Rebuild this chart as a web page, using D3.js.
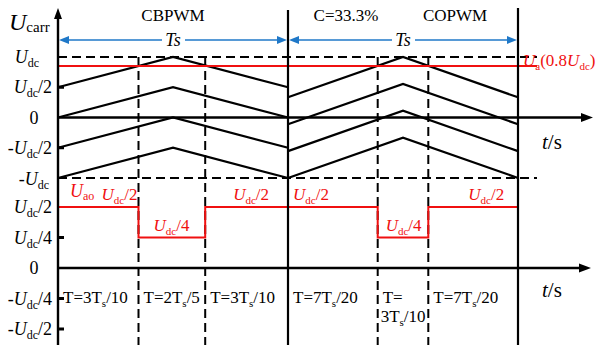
<!DOCTYPE html>
<html><head><meta charset="utf-8">
<script src="https://cdn.jsdelivr.net/npm/d3@7"></script>
<style>body{margin:0;background:#fff}svg{display:block}text{font-family:"Liberation Serif","Times New Roman",serif}</style>
</head><body><svg id="c" width="600" height="349"></svg>
<script>
// ---- data (values in units of Udc, time in units of Ts) ----
const periods = [[0, 1], [1, 2]];
const periodTitles = ["CBPWM", "COPWM"];
const cbLows  = [0.5, 0, -0.5, -1];
const cbHighs = [1, 0.5, 0, -0.5];
const coLows  = [1/3, -1/9, -5/9, -1];
const coHighs = [1, 5/9, 1/9, -1/3];
const uaLevel = 0.85;           // drawn level of the reference line
const switchTimes = [0.35, 0.64, 1.39, 1.61];
const uaoTimes  = [0, 0.35, 0.64, 1.39, 1.61, 2];
const uaoValues = [0.5, 0.25, 0.5, 0.25, 0.5, 0.5];
const topTicks = [{v:1,l:"U",s:"dc",r:""},{v:0.5,l:"U",s:"dc",r:"/2"},{v:0,l:"0",s:"",r:""},{v:-0.5,l:"-U",s:"dc",r:"/2"},{v:-1,l:"-U",s:"dc",r:""}];
const botTicks = [{v:0.5,l:"U",s:"dc",r:"/2"},{v:0.25,l:"U",s:"dc",r:"/4"},{v:0,l:"0",s:"",r:""},{v:-0.25,l:"-U",s:"dc",r:"/4"},{v:-0.5,l:"-U",s:"dc",r:"/2"}];
const intervalLabels = [
  {t:0, parts:["T=3T","s","/10"]},{t:0.35, parts:["T=2T","s","/5"]},{t:0.64, parts:["T=3T","s","/10"]},
  {t:1, parts:["T=7T","s","/20"]},{t:1.39, parts:["T=","",""]},{t:1.39, parts:["3T","s","/10"], line2:true},{t:1.61, parts:["T=7T","s","/20"]}];
const redLabels = [
  {t:0.05,v:0.5,parts:["U","dc","/2"],dx:32},{t:0.35,v:0.25,parts:["U","dc","/4"],dx:15},
  {t:0.64,v:0.5,parts:["U","dc","/2"],dx:28},{t:1.0,v:0.5,parts:["U","dc","/2"],dx:5},
  {t:1.39,v:0.25,parts:["U","dc","/4"],dx:8},{t:1.61,v:0.5,parts:["U","dc","/2"],dx:40}];

const svg = d3.select("#c");
const x = d3.scaleLinear().domain([0, 2]).range([58, 518]);
const yT = d3.scaleLinear().domain([-1, 1]).range([178, 57]);
const yB = d3.scaleLinear().domain([-0.5, 0.5]).range([329, 207]);
const yBottom = 345, xEnd = 537;
const BLUE = "#1f78c8", RED = "#f01010";

// dashed horizontals at +-Udc
[1, -1].forEach(v => svg.append("line").attr("x1", x(0)).attr("x2", xEnd).attr("y1", yT(v)).attr("y2", yT(v))
  .attr("stroke", "#000").attr("stroke-width", 2).attr("stroke-dasharray", "9,5"));

// dashed verticals at switching times
switchTimes.forEach(t => svg.append("line").attr("x1", x(t)).attr("x2", x(t)).attr("y1", yT(1)).attr("y2", yBottom)
  .attr("stroke", "#000").attr("stroke-width", 2).attr("stroke-dasharray", "9,5"));

// carriers
const line = d3.line().x(d => x(d[0])).y(d => yT(d[1]));
function carriers(t0, lows, highs) {
  lows.forEach((lo, i) => {
    const pts = [[t0, lo], [t0 + 0.5, highs[i]], [t0 + 1, lo]];
    svg.append("path").attr("d", line(pts)).attr("fill", "none").attr("stroke", "#000").attr("stroke-width", 2.2);
  });
}
carriers(0, cbLows, cbHighs);
carriers(1, coLows, coHighs);

// Ua line
svg.append("line").attr("x1", x(0)).attr("x2", xEnd).attr("y1", yT(uaLevel)).attr("y2", yT(uaLevel))
  .attr("stroke", RED).attr("stroke-width", 2);

// Uao waveform
const step = d3.line().curve(d3.curveStepAfter).x(d => x(d[0])).y(d => yB(d[1]));
svg.append("path").attr("d", step(uaoTimes.map((t, i) => [t, uaoValues[i]]))).attr("fill", "none")
  .attr("stroke", RED).attr("stroke-width", 2);

// axes
function arrowPath(x0, y0, dir) {
  if (dir === "up") return `M${x0},${y0} L${x0-4},${y0+11} L${x0+4},${y0+11} Z`;
  return `M${x0},${y0} L${x0-12},${y0-4.5} L${x0-12},${y0+4.5} Z`;
}
svg.append("line").attr("x1", x(0)).attr("x2", x(0)).attr("y1", 14).attr("y2", yBottom).attr("stroke", "#000").attr("stroke-width", 2.4);
svg.append("path").attr("d", arrowPath(x(0), 8, "up")).attr("fill", "#000");
[yT(0), yB(0)].forEach((yy, i) => {
  const xe = i === 0 ? 593 : 591;
  svg.append("line").attr("x1", x(0)).attr("x2", xe - 8).attr("y1", yy).attr("y2", yy).attr("stroke", "#000").attr("stroke-width", 2.4);
  svg.append("path").attr("d", arrowPath(xe, yy, "right")).attr("fill", "#000");
});
// period boundaries
[x(1), x(2)].forEach((xx, i) => svg.append("line").attr("x1", xx).attr("x2", xx).attr("y1", i ? 8 : 10).attr("y2", yBottom)
  .attr("stroke", "#000").attr("stroke-width", 2.2));

// ticks
[0.5, -0.5].forEach(v => svg.append("line").attr("x1", x(0)).attr("x2", x(0) + 6).attr("y1", yT(v)).attr("y2", yT(v)).attr("stroke", "#000").attr("stroke-width", 3));
[0.25, -0.25, -0.5].forEach(v => svg.append("line").attr("x1", x(0)).attr("x2", x(0) + 6).attr("y1", yB(v)).attr("y2", yB(v)).attr("stroke", "#000").attr("stroke-width", 3));

// rich text helper: parts [main, sub, rest]
function rich(g, xx, yy, parts, opts) {
  const o = Object.assign({size: 18, sub: 12, anchor: "start", fill: "#000", italicMain: true}, opts || {});
  const t = g.append("text").attr("x", xx).attr("y", yy).attr("text-anchor", o.anchor).attr("fill", o.fill).attr("font-size", o.size);
  let main = parts[0];
  if (o.italicMain && /U$/.test(main)) {
    const pre = main.slice(0, -1);
    if (pre) t.append("tspan").text(pre);
    t.append("tspan").attr("font-style", "italic").text("U");
  } else t.append("tspan").text(main);
  if (parts[1]) t.append("tspan").attr("font-size", o.sub).attr("dy", 4).text(parts[1]);
  if (parts[2]) t.append("tspan").attr("dy", parts[1] ? -4 : 0).text(parts[2]);
  return t;
}

// y tick labels
topTicks.forEach(d => {
  if (d.v === 1) rich(svg, 27, yT(d.v) + 6, [d.l, d.s, d.r], {anchor: "middle"});
  else if (d.v === 0) rich(svg, 34, yT(d.v) + 6, [d.l, d.s, d.r], {anchor: "middle"});
  else if (d.v === -1) rich(svg, 34, yT(d.v) + 7, [d.l, d.s, d.r], {anchor: "middle"});
  else rich(svg, 52, yT(d.v) + 6, [d.l, d.s, d.r], {anchor: "end"});
});
botTicks.forEach(d => {
  if (d.v === 0) rich(svg, 34, yB(d.v) + 6, [d.l, d.s, d.r], {anchor: "middle"});
  else rich(svg, 52, yB(d.v) + 6, [d.l, d.s, d.r], {anchor: "end"});
});

// axis label Ucarr
const ul = svg.append("text").attr("x", 9).attr("y", 30).attr("font-size", 24);
ul.append("tspan").attr("font-style", "italic").text("U");
ul.append("tspan").attr("font-size", 15).attr("dy", 2).text("carr");

// t/s labels
[[yT(0) + 31], [yB(0) + 29]].forEach(([yy]) => {
  const t = svg.append("text").attr("x", 542).attr("y", yy).attr("font-size", 21);
  t.append("tspan").attr("font-style", "italic").text("t");
  t.append("tspan").text("/s");
});

// titles
svg.append("text").attr("x", (x(0) + x(1)) / 2).attr("y", 21).attr("text-anchor", "middle").attr("font-size", 17).text(periodTitles[0]);
svg.append("text").attr("x", 346).attr("y", 21).attr("text-anchor", "middle").attr("font-size", 17).text("C=33.3%");
svg.append("text").attr("x", 455).attr("y", 21).attr("text-anchor", "middle").attr("font-size", 17).text(periodTitles[1]);

// Ts arrows
periods.forEach(([a, b]) => {
  const x0 = x(a) + 1, x1 = x(b) - 1, yy = 40, xm = (x0 + x1) / 2;
  svg.append("line").attr("x1", x0 + 8).attr("x2", xm - 11).attr("y1", yy).attr("y2", yy).attr("stroke", BLUE).attr("stroke-width", 1.6);
  svg.append("line").attr("x1", xm + 12).attr("x2", x1 - 8).attr("y1", yy).attr("y2", yy).attr("stroke", BLUE).attr("stroke-width", 1.6);
  svg.append("path").attr("d", `M${x0},${yy} L${x0+10},${yy-4} L${x0+10},${yy+4} Z`).attr("fill", BLUE);
  svg.append("path").attr("d", `M${x1},${yy} L${x1-10},${yy-4} L${x1-10},${yy+4} Z`).attr("fill", BLUE);
  svg.append("text").attr("x", xm).attr("y", yy + 6).attr("text-anchor", "middle").attr("font-size", 18).attr("font-style", "italic").text("Ts");
});

// Ua label
const ua = svg.append("text").attr("x", 523).attr("y", 66).attr("font-size", 17).attr("fill", RED);
ua.append("tspan").attr("font-style", "italic").text("U");
ua.append("tspan").attr("font-size", 11).attr("dy", 4).text("a");
ua.append("tspan").attr("dy", -4).text("(0.8");
ua.append("tspan").attr("font-style", "italic").text("U");
ua.append("tspan").attr("font-size", 11).attr("dy", 4).text("dc");
ua.append("tspan").attr("dy", -4).text(")");

// Uao label
const uao = svg.append("text").attr("x", 70).attr("y", 197).attr("font-size", 18).attr("fill", RED);
uao.append("tspan").attr("font-style", "italic").text("U");
uao.append("tspan").attr("font-size", 12).attr("dy", 3).text("ao");

// red level labels
redLabels.forEach(d => rich(svg, x(d.t) + d.dx, yB(d.v) - 7, d.parts, {size: 17, sub: 11, fill: RED}));

// interval labels
intervalLabels.forEach(d => {
  const xx = x(d.t) + (d.line2 ? 3 : 5);
  const yy = d.line2 ? 322 : 303;
  const t = svg.append("text").attr("x", xx).attr("y", yy).attr("font-size", 17);
  t.append("tspan").text(d.parts[0]);
  if (d.parts[1]) t.append("tspan").attr("font-size", 11).attr("dy", 4).text(d.parts[1]);
  if (d.parts[2]) t.append("tspan").attr("dy", -4).text(d.parts[2]);
});
</script></body></html>
